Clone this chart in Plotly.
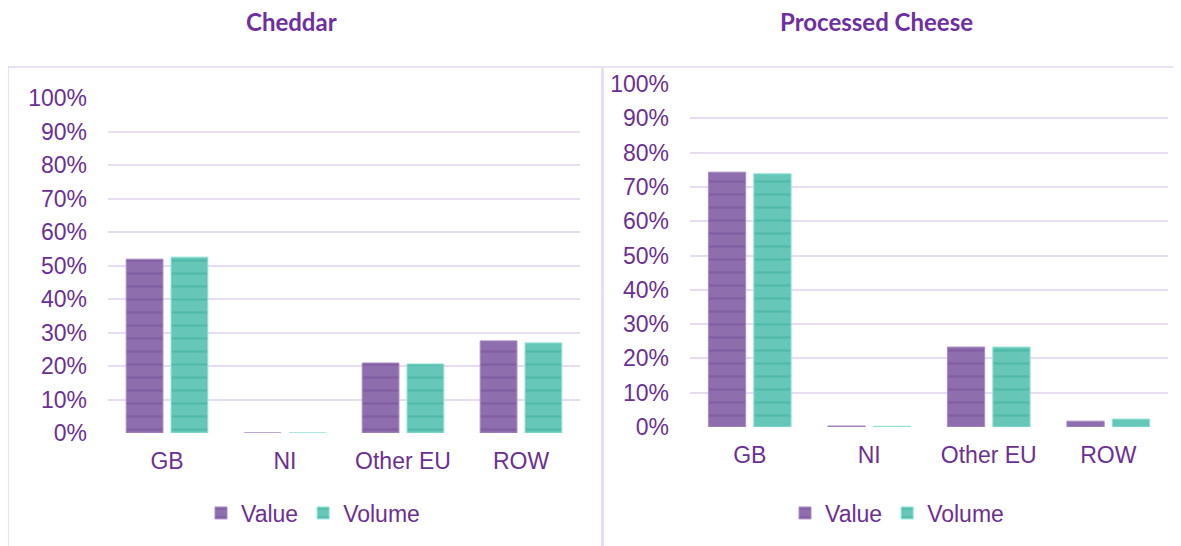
import plotly.graph_objects as go

W, H = 1181, 546
OX, OY = 8, 8  # page body margin offset

categories = ["GB", "NI", "Other EU", "ROW"]
cheddar_value = [0.519, 0.0, 0.209, 0.275]
cheddar_volume = [0.525, 0.0, 0.206, 0.269]
processed_value = [0.743, 0.003, 0.233, 0.017]
processed_volume = [0.738, 0.002, 0.233, 0.023]
titles = ["Cheddar", "Processed Cheese"]
tick_vals = [i / 10 for i in range(11)]
tick_text = [f"{i*10}%" for i in range(11)]

PURPLE_TEXT = "#6B3094"
VAL_FILL = "#8F6EAD"
VAL_STRIPE = "#744E98"
VOL_FILL = "#66C6B7"
VOL_STRIPE = "#3AAE9C"
GRID = "#E8DCF2"


def px_x(p):
    return (p - OX) / W


def px_y(p):
    return 1 - (p - OY) / H


fig = go.Figure()

series = [
    (cheddar_value, cheddar_volume, "x", "y", "legend"),
    (processed_value, processed_volume, "x2", "y2", "legend2"),
]
for vals, vols, xa, ya, lg in series:
    fig.add_trace(go.Bar(
        x=categories, y=vals, name="Value", xaxis=xa, yaxis=ya, legend=lg,
        marker=dict(color=VAL_FILL, line=dict(color="#A98BC4", width=1),
                    pattern=dict(shape="-", size=13, solidity=0.18,
                                 fgcolor=VAL_STRIPE, fillmode="overlay")),
    ))
    fig.add_trace(go.Bar(
        x=categories, y=vols, name="Volume", xaxis=xa, yaxis=ya, legend=lg,
        marker=dict(color=VOL_FILL, line=dict(color="#8FE3D6", width=1),
                    pattern=dict(shape="-", size=13, solidity=0.18,
                                 fgcolor=VOL_STRIPE, fillmode="overlay")),
    ))

axis_font = dict(family="Liberation Sans, Arial, sans-serif", size=23, color=PURPLE_TEXT)

xcommon = dict(showgrid=False, showline=False, zeroline=False, ticks="",
               tickfont=axis_font, automargin=False, ticklabelstandoff=12)
ycommon = dict(range=[0, 1], tickvals=tick_vals, ticktext=tick_text,
               showgrid=True, gridcolor=GRID, gridwidth=1.5, zeroline=False,
               showline=False, ticks="", tickfont=axis_font, automargin=False,
               ticklabelstandoff=20)

fig.update_layout(
    width=W, height=H,
    margin=dict(l=0, r=0, t=0, b=0),
    paper_bgcolor="white", plot_bgcolor="white",
    barmode="group", bargap=0.24, bargroupgap=0.18,
    xaxis=dict(domain=[px_x(108), px_x(580)], anchor="y", **xcommon),
    yaxis=dict(domain=[px_y(433), px_y(98)], anchor="x", **ycommon),
    xaxis2=dict(domain=[px_x(690), px_x(1168)], anchor="y2", **xcommon),
    yaxis2=dict(domain=[px_y(427), px_y(84)], anchor="x2", **ycommon),
    legend=dict(orientation="h", x=px_x(313), y=px_y(513), xanchor="center",
                yanchor="middle", font=axis_font, itemwidth=30,
                bgcolor="rgba(0,0,0,0)", tracegroupgap=0),
    legend2=dict(orientation="h", x=px_x(897), y=px_y(513), xanchor="center",
                 yanchor="middle", font=axis_font, itemwidth=30,
                 bgcolor="rgba(0,0,0,0)", tracegroupgap=0),
    showlegend=True,
)

# Chart borders
for x0, y0, x1, y1 in [(8, 67, 602, 560), (603, 67, 1195, 560)]:
    fig.add_shape(type="rect", xref="paper", yref="paper",
                  x0=px_x(x0), x1=px_x(x1), y0=px_y(y1), y1=px_y(y0),
                  line=dict(color="#E6D6F3", width=1.5), fillcolor="rgba(0,0,0,0)",
                  layer="below")

# Titles
for t, cx in zip(titles, [291, 876]):
    fig.add_annotation(text=f"<b>{t}</b>", xref="paper", yref="paper",
                       x=px_x(cx), y=px_y(21), xanchor="center", yanchor="middle",
                       showarrow=False,
                       font=dict(family="Lato, Noto Sans, sans-serif", size=24,
                                 color="#6E2FA0"))

fig.write_html("out.html")
